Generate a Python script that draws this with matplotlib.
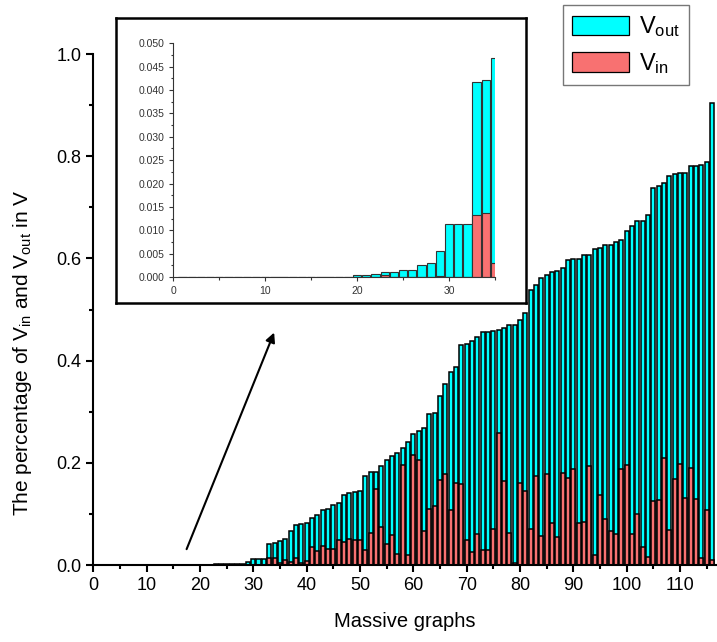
import matplotlib
matplotlib.use('Agg')
import matplotlib.pyplot as plt
from matplotlib.patches import Patch
from matplotlib.ticker import MultipleLocator
import numpy as np

plt.rcParams['font.family'] = ['Liberation Sans', 'DejaVu Sans']
plt.rcParams['mathtext.fontset'] = 'custom'
plt.rcParams['mathtext.rm'] = 'Liberation Sans'
plt.rcParams['mathtext.it'] = 'Liberation Sans:italic'

# graph index 1..116
graphs = np.arange(1, 117)

# share of V_out in V (cyan)
v_out = [0.0] * 10 + [0.00005] * 9 + [
    0.0005, 0.0005, 0.0007, 0.0011, 0.0011, 0.0016, 0.0016, 0.0025, 0.0029, 0.0055,   # 20-29
    0.0113, 0.0113, 0.0113, 0.0418, 0.0422, 0.0468, 0.050, 0.066, 0.078, 0.080,       # 30-39
    0.0815, 0.092, 0.097, 0.107, 0.110, 0.117, 0.122, 0.137, 0.1415, 0.143,           # 40-49
    0.145, 0.175, 0.182, 0.182, 0.193, 0.206, 0.213, 0.220, 0.229, 0.241,             # 50-59
    0.256, 0.263, 0.269, 0.2955, 0.298, 0.331, 0.354, 0.378, 0.388, 0.430,            # 60-69
    0.433, 0.439, 0.447, 0.457, 0.457, 0.458, 0.460, 0.463, 0.470, 0.470,             # 70-79
    0.4795, 0.494, 0.539, 0.548, 0.561, 0.567, 0.573, 0.576, 0.581, 0.596,            # 80-89
    0.598, 0.598, 0.606, 0.607, 0.618, 0.620, 0.626, 0.626, 0.633, 0.636,             # 90-99
    0.654, 0.663, 0.673, 0.674, 0.685, 0.737, 0.742, 0.748, 0.761, 0.765,             # 100-109
    0.768, 0.768, 0.780, 0.780, 0.783, 0.788, 0.905,                                  # 110-116
]

# share of V_in in V (red)
v_in = [0.0] * 22 + [
    0.0005, 0.0, 0.0, 0.0, 0.0, 0.0, 0.0002,                                          # 23-29
    0.0, 0.0, 0.0, 0.0132, 0.0138, 0.0031, 0.0098, 0.0052, 0.0143, 0.003,             # 30-39
    0.007, 0.0346, 0.028, 0.038, 0.031, 0.031, 0.048, 0.045, 0.050, 0.048,            # 40-49
    0.048, 0.029, 0.062, 0.148, 0.075, 0.042, 0.0587, 0.021, 0.196, 0.020,            # 50-59
    0.215, 0.2055, 0.066, 0.109, 0.1155, 0.166, 0.179, 0.107, 0.161, 0.1585,          # 60-69
    0.049, 0.025, 0.060, 0.030, 0.030, 0.070, 0.259, 0.164, 0.062, 0.004,             # 70-79
    0.160, 0.145, 0.070, 0.175, 0.057, 0.179, 0.083, 0.055, 0.181, 0.170,             # 80-89
    0.188, 0.0815, 0.0835, 0.194, 0.0196, 0.138, 0.091, 0.0665, 0.060, 0.188,         # 90-99
    0.195, 0.061, 0.099, 0.036, 0.016, 0.125, 0.127, 0.210, 0.069, 0.169,             # 100-109
    0.197, 0.132, 0.190, 0.129, 0.014, 0.108, 0.010,                                  # 110-116
]

CYAN = '#00FFFF'
RED = '#F87171'

fig = plt.figure(figsize=(7.17, 6.42), dpi=100)

# main axes
ax = fig.add_axes([0.1301, 0.1199, 0.8689, 0.7959])
ax.bar(graphs, v_out, width=0.8, color=CYAN, edgecolor='black', linewidth=1.1)
ax.bar(graphs, v_in, width=0.8, color=RED, edgecolor='black', linewidth=1.1)
ax.set_xlim(0, 116.8)
ax.set_ylim(0, 1.0)
ax.spines['top'].set_visible(False)
ax.spines['right'].set_visible(False)
for s in ('left', 'bottom'):
    ax.spines[s].set_linewidth(1.5)
ax.xaxis.set_major_locator(MultipleLocator(10))
ax.xaxis.set_minor_locator(MultipleLocator(5))
ax.yaxis.set_major_locator(MultipleLocator(0.2))
ax.yaxis.set_minor_locator(MultipleLocator(0.1))
ax.tick_params(which='major', direction='out', length=5, width=1.5, labelsize=13)
ax.tick_params(which='minor', direction='out', length=3, width=1.5)
ax.yaxis.set_major_formatter(plt.FormatStrFormatter('%.1f'))
ax.set_xlabel('Massive graphs', fontsize=14.5, labelpad=13)
ax.set_ylabel(r'The percentage of V$_{\mathrm{in}}$ and V$_{\mathrm{out}}$ in V',
              fontsize=15, labelpad=14)
ax.yaxis.set_label_coords(-0.095, 0.415)

# arrow pointing to the zoomed region
ax.annotate('', xy=(34.1, 0.46), xytext=(17.3, 0.026),
            arrowprops=dict(arrowstyle='-|>', color='black', lw=1.5,
                            mutation_scale=14))

# frame around the inset
frame = fig.add_axes([0.1618, 0.5276, 0.5718, 0.4449])
frame.set_xticks([])
frame.set_yticks([])
for s in frame.spines.values():
    s.set_linewidth(1.8)

# inset: first 35 graphs
ins = fig.add_axes([0.2417, 0.5685, 0.4487, 0.364])
ins.bar(graphs, v_out, width=0.9, color=CYAN, edgecolor='#333333', linewidth=0.8)
ins.bar(graphs, v_in, width=0.9, color=RED, edgecolor='#333333', linewidth=0.8)
ins.set_xlim(0, 35)
ins.set_ylim(0, 0.05)
ins.spines['top'].set_visible(False)
ins.spines['right'].set_visible(False)
for s in ('left', 'bottom'):
    ins.spines[s].set_linewidth(0.8)
    ins.spines[s].set_color('#333333')
ins.xaxis.set_major_locator(MultipleLocator(10))
ins.xaxis.set_minor_locator(MultipleLocator(5))
ins.yaxis.set_major_locator(MultipleLocator(0.005))
ins.yaxis.set_minor_locator(MultipleLocator(0.0025))
ins.yaxis.set_major_formatter(plt.FormatStrFormatter('%.3f'))
ins.tick_params(which='major', direction='out', length=3, width=0.8,
                labelsize=7.5, colors='#333333')
ins.tick_params(which='minor', direction='out', length=1.8, width=0.8, colors='#333333')

# legend
handles = [Patch(facecolor=CYAN, edgecolor='black', linewidth=0.9),
           Patch(facecolor=RED, edgecolor='black', linewidth=0.9)]
labels = [r'$\mathrm{V}_{\mathrm{out}}$', r'$\mathrm{V}_{\mathrm{in}}$']
leg = fig.legend(handles, labels, loc='upper left',
                 bbox_to_anchor=(563 / 717, 1 - 5 / 642),
                 fontsize=17, frameon=True, fancybox=False,
                 handlelength=2.4, handleheight=0.9, handletextpad=0.4,
                 borderpad=0.4, labelspacing=0.5, borderaxespad=0)
leg.get_frame().set_edgecolor('#555555')
leg.get_frame().set_linewidth(1.0)

fig.savefig('out.png', dpi=100)
